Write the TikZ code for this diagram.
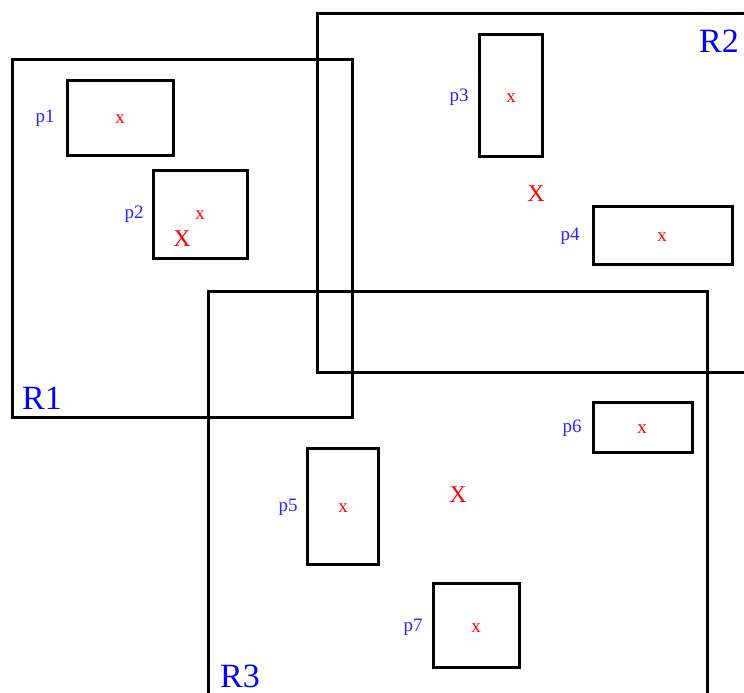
\documentclass[tikz,border=0pt]{standalone}
\usepackage{fontspec}
\setmainfont{Liberation Serif}
\begin{document}
\begin{tikzpicture}[x=1pt,y=-1pt,
  region/.style={draw=black,line width=3pt},
  page/.style={draw=black,line width=3pt},
  rlabel/.style={text=blue,inner sep=0pt,font=\fontsize{34}{34}\selectfont},
  plabel/.style={text=blue!85!white,inner sep=0pt,font=\fontsize{19}{19}\selectfont},
  pmark/.style={text=red,inner sep=0pt,font=\fontsize{19}{19}\selectfont},
  rmark/.style={text=red,inner sep=0pt,font=\fontsize{24}{24}\selectfont}]
\useasboundingbox (0,0) rectangle (744,693);
\clip (0,0) rectangle (744,693);
% regions
\draw[region] (12,60) rectangle (352,417);
\draw[region] (317,14) rectangle (770,372);
\draw[region] (208,291) rectangle (707,720);
% pages
\draw[page] (67,80) rectangle (173,155);
\draw[page] (153,170) rectangle (247,258);
\draw[page] (479,35) rectangle (542,156);
\draw[page] (593,206) rectangle (732,264);
\draw[page] (307,448) rectangle (378,564);
\draw[page] (593,402) rectangle (692,452);
\draw[page] (433,583) rectangle (519,667);
% region labels
\node[rlabel] (r1) at (42,398) {R1};
\node[rlabel] (r2) at (719,41) {R2};
\node[rlabel] (r3) at (240,676) {R3};
% page labels
\node[plabel] (l1) at (45,118) {p1};
\node[plabel] (l2) at (134,214) {p2};
\node[plabel] (l3) at (459,97) {p3};
\node[plabel] (l4) at (570,236) {p4};
\node[plabel] (l5) at (288,507) {p5};
\node[plabel] (l6) at (572,428) {p6};
\node[plabel] (l7) at (413,627) {p7};
% page centres
\node[pmark] (c1) at (120,119) {x};
\node[pmark] (c2) at (200,215) {x};
\node[pmark] (c3) at (511,98) {x};
\node[pmark] (c4) at (662,237) {x};
\node[pmark] (c5) at (343,508) {x};
\node[pmark] (c6) at (642,429) {x};
\node[pmark] (c7) at (476,628) {x};
% region centres
\node[rmark] (m1) at (182,239) {X};
\node[rmark] (m2) at (536,194) {X};
\node[rmark] (m3) at (458,495) {X};
\end{tikzpicture}
\end{document}
